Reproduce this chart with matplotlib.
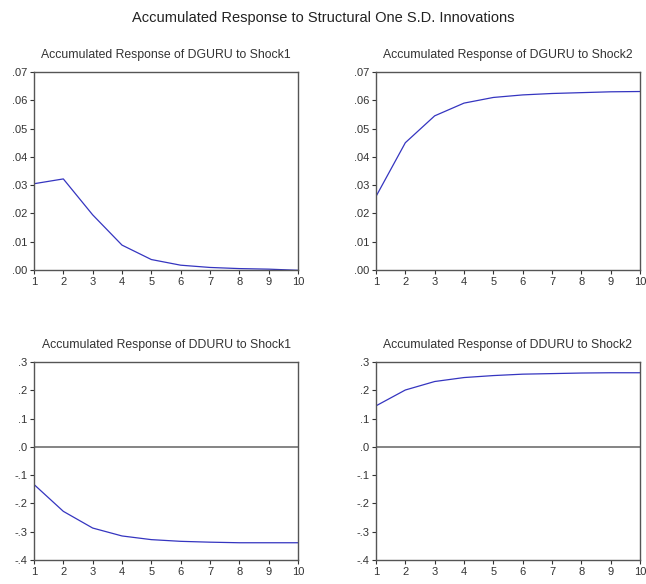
import matplotlib
matplotlib.use("Agg")
import matplotlib.pyplot as plt
import numpy as np

plt.rcParams['font.family'] = ['Liberation Sans', 'DejaVu Sans']

periods = [1, 2, 3, 4, 5, 6, 7, 8, 9, 10]
dguru_shock1 = [0.0305, 0.0322, 0.0195, 0.0088, 0.0037, 0.0017, 0.0009, 0.0005, 0.0003, -0.0001]
dguru_shock2 = [0.0260, 0.0450, 0.0545, 0.0590, 0.0610, 0.0619, 0.0624, 0.0627, 0.0630, 0.0631]
dduru_shock1 = [-0.133, -0.228, -0.287, -0.315, -0.328, -0.334, -0.337, -0.339, -0.339, -0.339]
dduru_shock2 = [0.145, 0.201, 0.231, 0.245, 0.252, 0.257, 0.259, 0.261, 0.262, 0.262]

titles = ["Accumulated Response of DGURU to Shock1",
          "Accumulated Response of DGURU to Shock2",
          "Accumulated Response of DDURU to Shock1",
          "Accumulated Response of DDURU to Shock2"]
series = [dguru_shock1, dguru_shock2, dduru_shock1, dduru_shock2]

top_ticks = [0.00, 0.01, 0.02, 0.03, 0.04, 0.05, 0.06, 0.07]
top_labels = [".00", ".01", ".02", ".03", ".04", ".05", ".06", ".07"]
bot_ticks = [-0.4, -0.3, -0.2, -0.1, 0.0, 0.1, 0.2, 0.3]
bot_labels = ["-.4", "-.3", "-.2", "-.1", ".0", ".1", ".2", ".3"]

W, H = 646, 584
fig = plt.figure(figsize=(W/100, H/100), dpi=100)

boxes = [(34, 72, 298, 270), (376, 72, 640, 270),
         (34, 362, 298, 560), (376, 362, 640, 560)]

line_color = '#3535c0'
for i, (x0, y0, x1, y1) in enumerate(boxes):
    ax = fig.add_axes([x0/W, 1 - y1/H, (x1-x0)/W, (y1-y0)/H])
    ax.plot(periods, series[i], color=line_color, lw=0.9)
    ax.set_xlim(1, 10)
    ax.set_xticks(periods)
    ax.set_xticklabels([str(p) for p in periods])
    if i < 2:
        ax.set_ylim(0, 0.07)
        ax.set_yticks(top_ticks)
        ax.set_yticklabels(top_labels)
    else:
        ax.set_ylim(-0.4, 0.3)
        ax.set_yticks(bot_ticks)
        ax.set_yticklabels(bot_labels)
        ax.axhline(0, color='#707070', lw=1.2)
    ax.tick_params(labelsize=8, colors='#333333', length=3, width=0.8, pad=2)
    for s in ax.spines.values():
        s.set_color('#555555')
        s.set_linewidth(1.0)
    ax.set_title(titles[i], fontsize=8.8, color='#333333', pad=10)

fig.text(0.5, 1 - 18/H, "Accumulated Response to Structural One S.D. Innovations",
         ha='center', va='center', fontsize=10.5, color='#222222')

fig.savefig("out.png", dpi=100)
